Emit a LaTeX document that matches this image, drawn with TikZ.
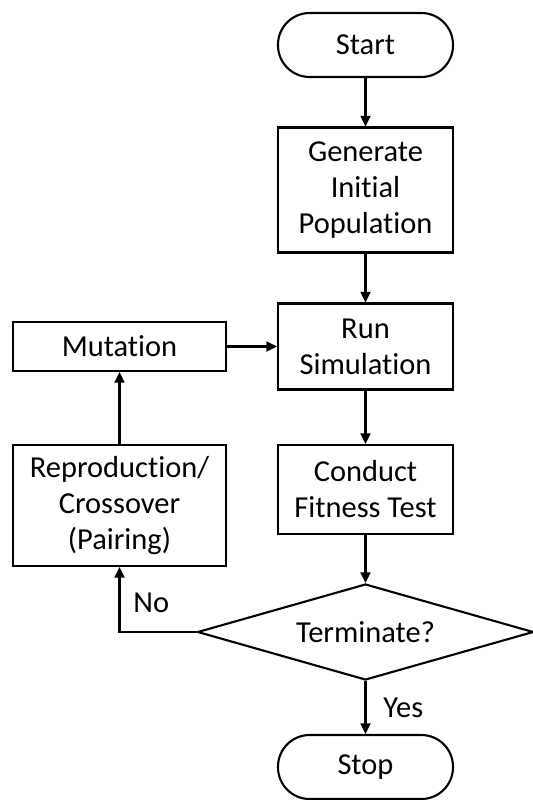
\documentclass[tikz,border=0pt]{standalone}
\usepackage{fontspec}
\setmainfont{Carlito}[Ligatures=NoCommon]
\usetikzlibrary{shapes.geometric,arrows.meta}

\begin{document}
\begin{tikzpicture}[x=0.03cm,y=-0.03cm,
  testo/.style={font=\fontsize{26pt}{30.7pt}\selectfont},
  blocco/.style={testo, draw, line width=1.8pt, align=center, inner sep=0pt},
  capsula/.style={blocco, rounded corners=0.95cm, minimum width=5.25cm, minimum height=1.92cm},
  scatola/.style={blocco, minimum width=5.25cm},
  decisione/.style={blocco, diamond, aspect=3.5, minimum width=10.08cm, minimum height=2.88cm},
  freccia/.style={line width=1.8pt, -{Triangle[length=0.32cm,width=0.3cm]}}]

% Area del disegno
\useasboundingbox (0,0) rectangle (533,800);

% Colonna principale
\node[capsula] (start) at (365.5,45) {Start};
\node[scatola, minimum height=3.75cm] (gen) at (365.5,190) {Generate\\Initial\\Population};
\node[scatola, minimum height=2.58cm] (run) at (365.5,346.5) {Run\\Simulation};
\node[scatola, minimum height=2.67cm] (fit) at (365.5,489.5) {Conduct\\Fitness Test};
\node[decisione] (term) at (365.5,632) {Terminate?};
\node[capsula] (stop) at (365.5,767) {Stop};

% Ramo di sinistra
\node[blocco, minimum width=6.39cm, minimum height=1.47cm] (mut) at (119.5,346.5) {Mutation};
\node[blocco, minimum width=6.39cm, minimum height=3.63cm] (rep) at (119.5,505.5) {Reproduction/\\Crossover\\(Pairing)};

% Frecce
\draw[freccia] (start) -- (gen);
\draw[freccia] (gen) -- (run);
\draw[freccia] (run) -- (fit);
\draw[freccia] (fit) -- (term);
\draw[freccia] (term) -- node[testo, anchor=west, xshift=0.39cm] {Yes} (stop);
\draw[freccia] (term.west) -| node[testo, pos=0.75, anchor=west, xshift=0.27cm, yshift=-0.09cm] {No} (rep.south);
\draw[freccia] (rep) -- (mut);
\draw[freccia] (mut) -- (run);

\end{tikzpicture}
\end{document}
